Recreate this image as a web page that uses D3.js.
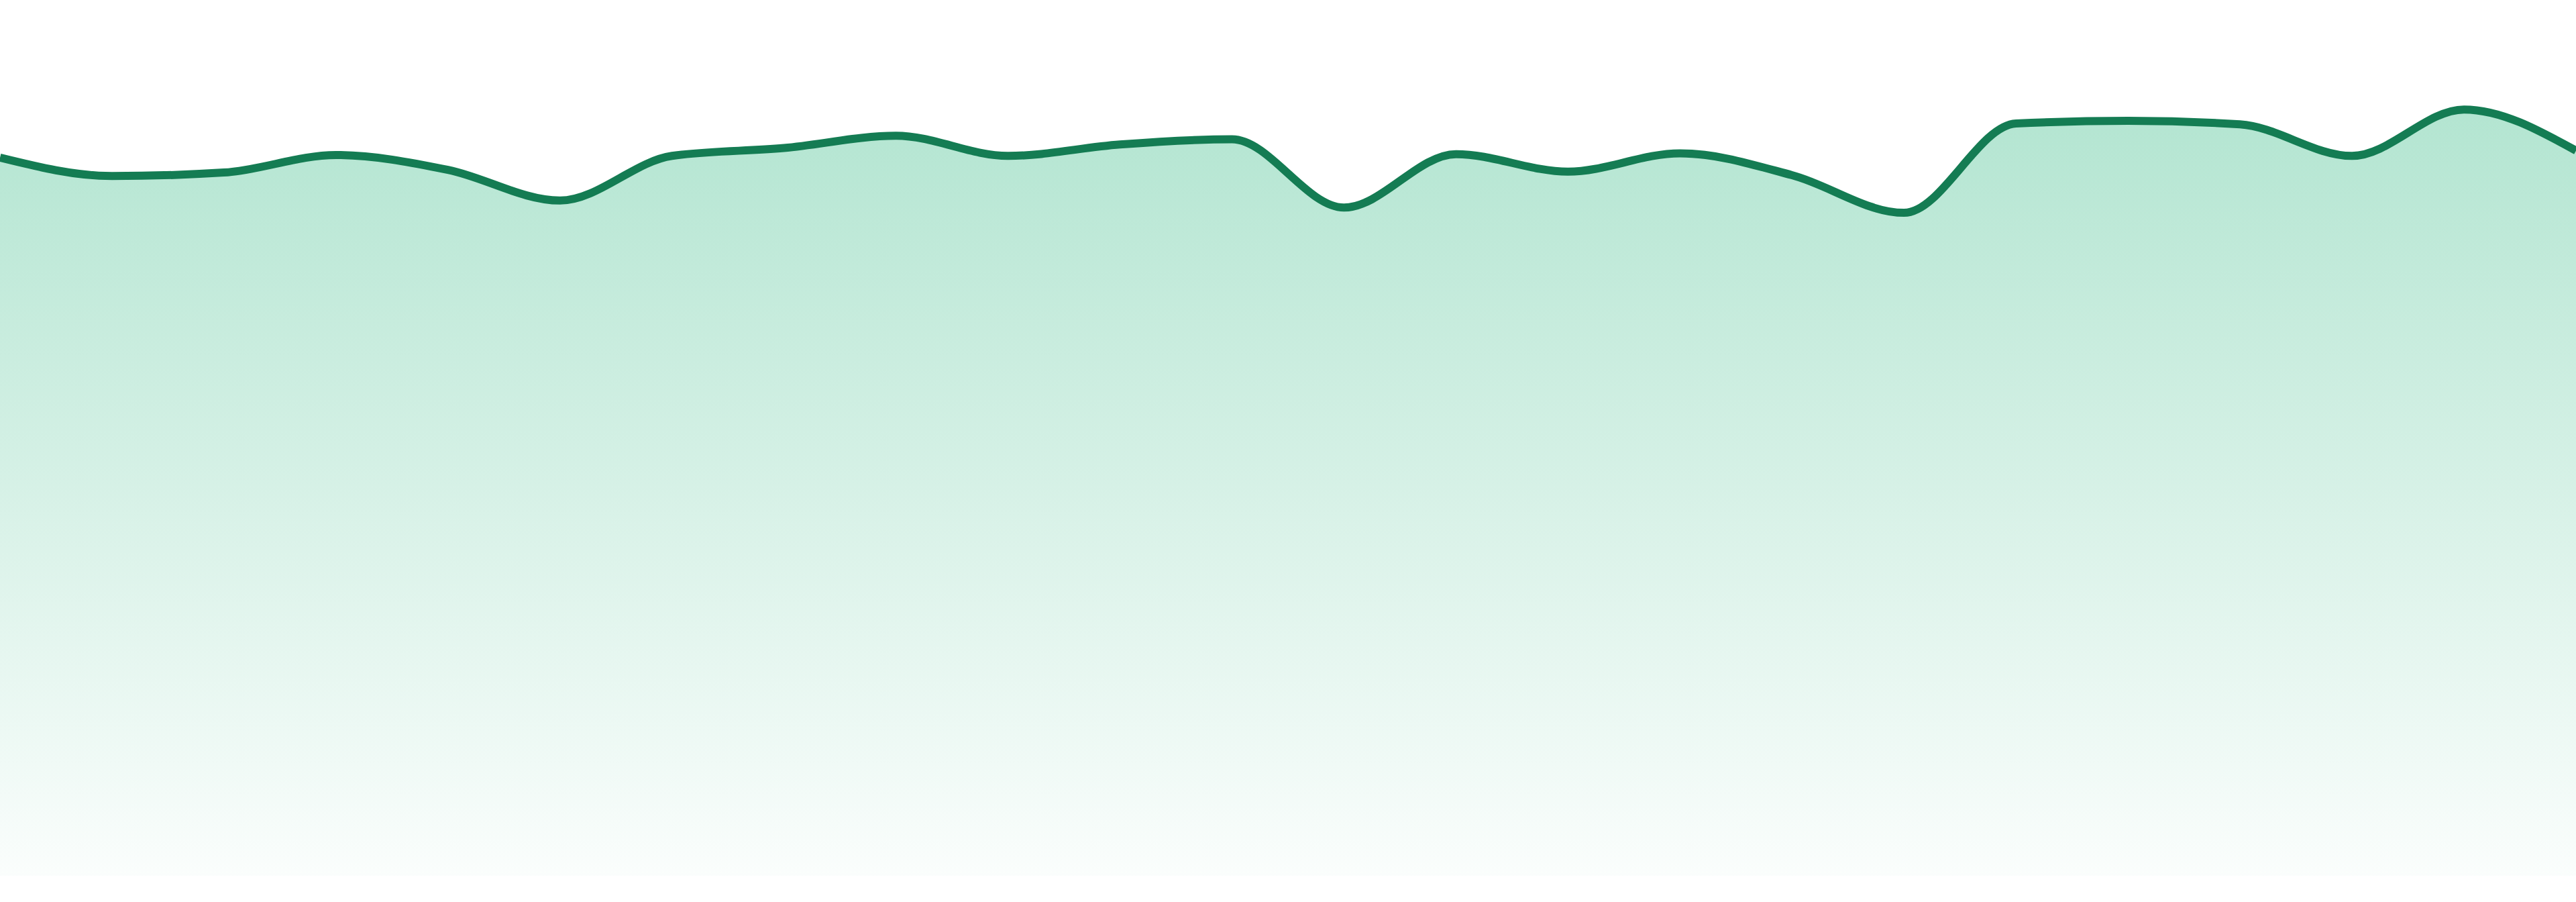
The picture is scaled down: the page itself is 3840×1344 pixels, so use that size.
<!DOCTYPE html>
<html>
<head>
<meta charset="utf-8">
<script src="https://cdn.jsdelivr.net/npm/d3@7"></script>
<style>
  html, body { margin: 0; padding: 0; background: #ffffff; overflow: hidden; }
  svg { display: block; }
</style>
</head>
<body>
<svg id="chart"></svg>
<script>
// ---- data ----
const categories = d3.range(1, 25).map(d => String(d));
const values = [
  82.0, 79.9, 80.3, 82.3, 80.6, 77.1, 82.2, 83.1,
  84.5, 82.2, 83.5, 84.1, 76.3, 82.4, 80.4, 82.5,
  80.0, 75.7, 85.9, 86.2, 85.8, 82.2, 87.5, 82.8
];
const yDomain = [0, 100];

// ---- layout ----
const W = 3840, H = 1344;
const baseY = 1305;

const svg = d3.select("#chart").attr("width", W).attr("height", H);

const x = d3.scalePoint().domain(categories).range([0, W]);
const y = d3.scaleLinear().domain(yDomain).range([baseY, 0]);

const data = categories.map((c, i) => ({ c, v: values[i] }));

const defs = svg.append("defs");
const grad = defs.append("linearGradient")
  .attr("id", "areaGrad")
  .attr("gradientUnits", "userSpaceOnUse")
  .attr("x1", 0).attr("x2", 0)
  .attr("y1", y(d3.max(values))).attr("y2", baseY);
grad.append("stop").attr("offset", "0%").attr("stop-color", "#b3e5d1").attr("stop-opacity", 1);
grad.append("stop").attr("offset", "100%").attr("stop-color", "#b3e5d1").attr("stop-opacity", 0.06);

const area = d3.area()
  .x(d => x(d.c))
  .y0(y(0))
  .y1(d => y(d.v))
  .curve(d3.curveMonotoneX);

const line = d3.line()
  .x(d => x(d.c))
  .y(d => y(d.v))
  .curve(d3.curveMonotoneX);

svg.append("path")
  .datum(data)
  .attr("d", area)
  .attr("fill", "url(#areaGrad)");

svg.append("path")
  .datum(data)
  .attr("d", line)
  .attr("fill", "none")
  .attr("stroke", "#147c53")
  .attr("stroke-width", 12)
  .attr("stroke-linejoin", "round");
</script>
</body>
</html>
